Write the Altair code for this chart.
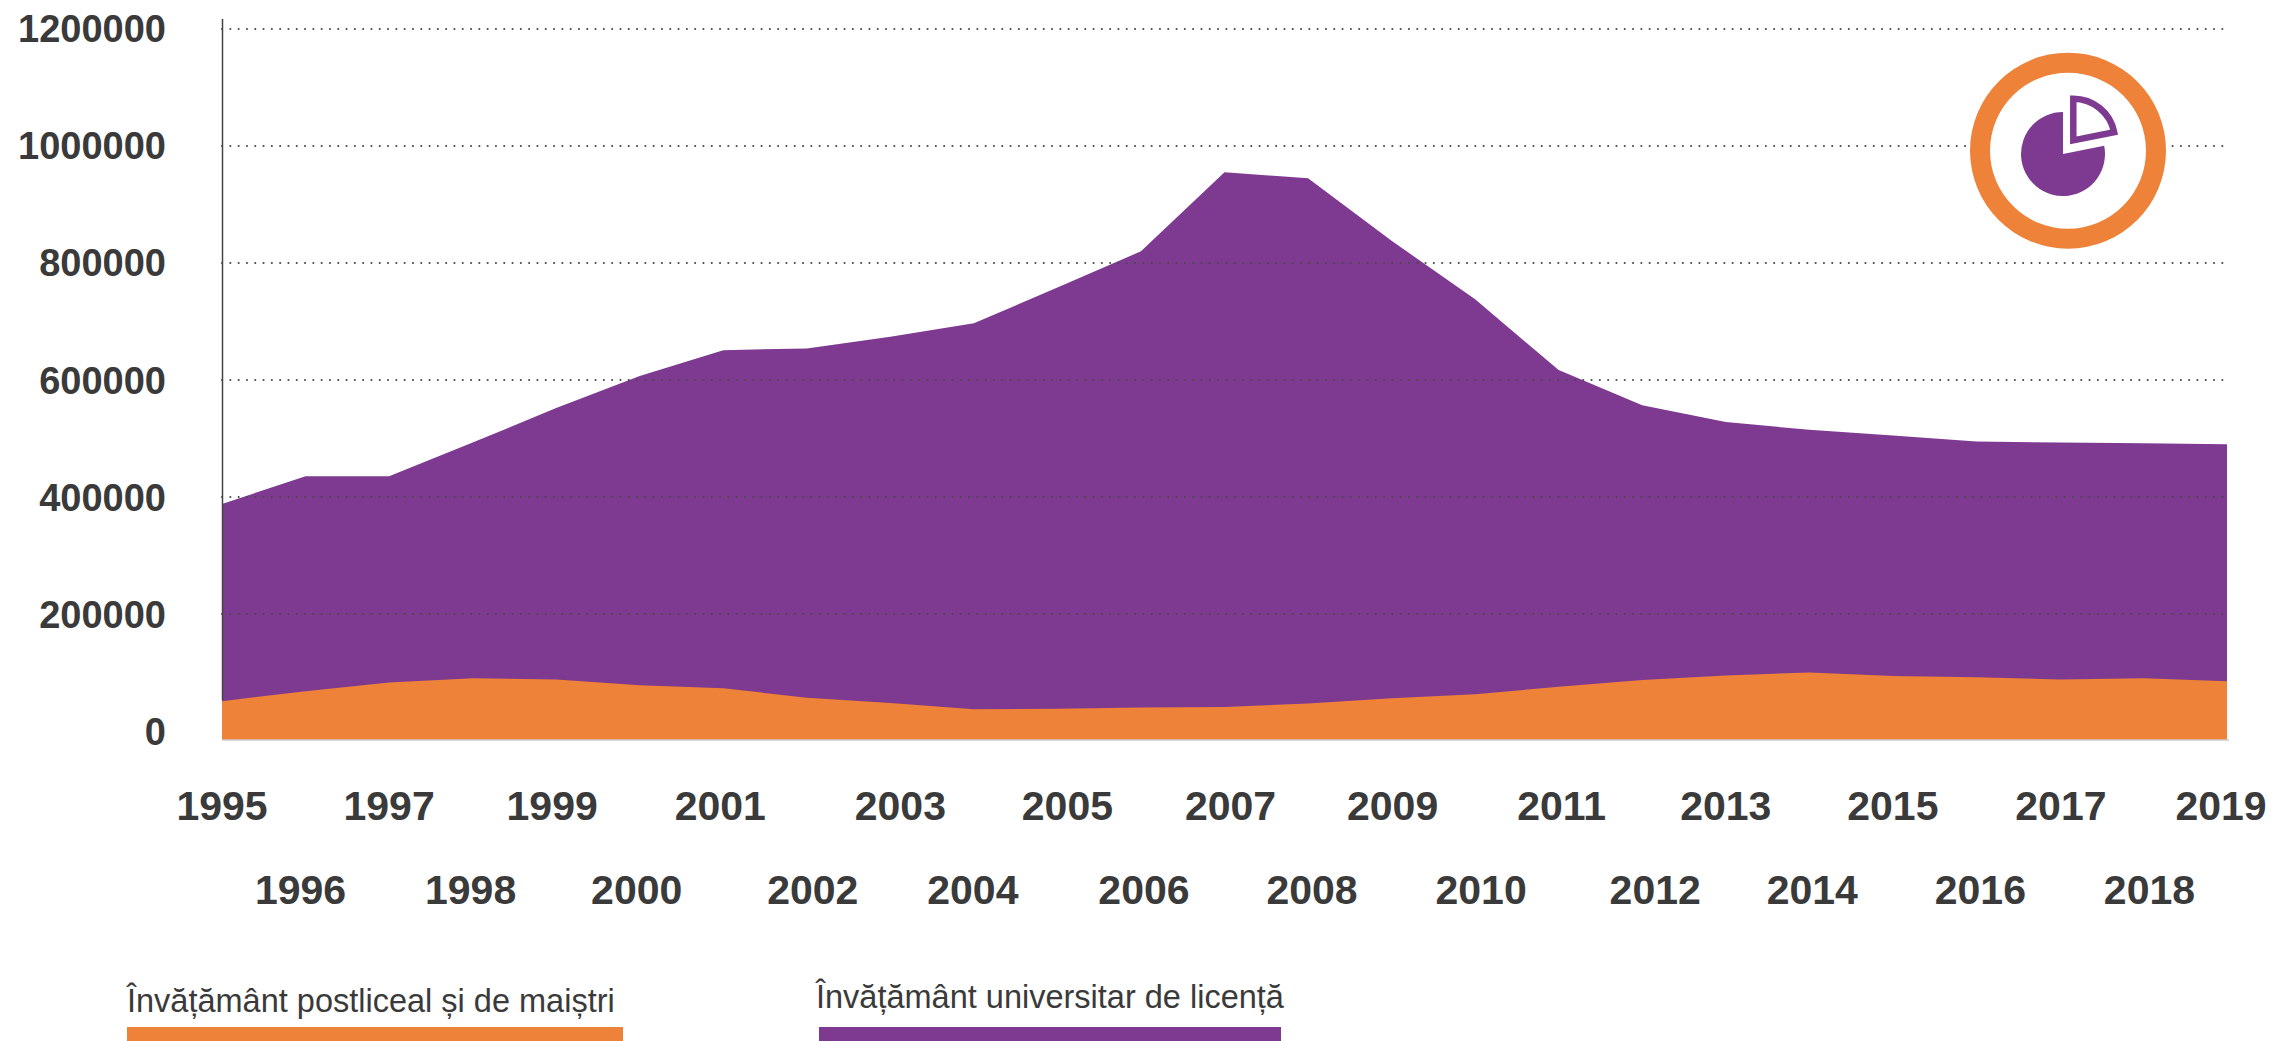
import altair as alt
import pandas as pd

years = list(range(1995, 2020))
licenta = [388000, 435600, 435600, 493000, 552000, 607000, 651000, 654000, 674000, 697000,
           758000, 820000, 955000, 945000, 838000, 738000, 617000, 557000, 528000, 515000,
           505000, 495000, 493000, 492000, 490000]
postliceal = [51000, 68000, 83000, 90000, 88000, 78000, 73000, 57000, 48000, 37000,
              38000, 40000, 41000, 47000, 56000, 63000, 75500, 87000, 95000, 100000,
              94000, 92000, 88000, 90000, 85000]
y_ticks = [0, 200000, 400000, 600000, 800000, 1000000, 1200000]
series_names = ["Învățământ postliceal și de maiștri", "Învățământ universitar de licență"]

PURPLE = "#7E3A90"
ORANGE = "#ED8238"
INK = "#3A3A3A"
FONT = "Liberation Sans"

W, H = 2005, 711
OX, OY = 222, 29
BOTTOM_DOMAIN = -15385
x_scale = alt.Scale(domain=[1995, 2019], range=[0, W], nice=False, zero=False)
y_scale = alt.Scale(domain=[BOTTOM_DOMAIN, 1200000], range=[H, 0], nice=False, zero=False)
label_scale = alt.Scale(domain=[0, 1200000], range=[705, 2], nice=False, zero=False)

# layout only: how far each year label sits from its tick in the reference, in px
label_nudge = {1996: -5, 1998: -2, 1999: -4, 2000: -3, 2001: -3, 2002: 6, 2003: 10, 2004: -1,
               2005: 10, 2006: 3, 2007: 6, 2008: 4, 2009: 1, 2010: 6, 2011: 3, 2012: 13,
               2014: 3, 2016: 4, 2017: 1, 2018: 6, 2019: -6}

df = pd.DataFrame({"year": years, "licenta": licenta, "postliceal": postliceal, "base": BOTTOM_DOMAIN})
ticks = pd.DataFrame({"v": y_ticks, "label": [str(v) for v in y_ticks]})
X = alt.X("year:Q", scale=x_scale, axis=None)

purple = alt.Chart(df).mark_area(color=PURPLE, opacity=1).encode(
    x=X, y=alt.Y("licenta:Q", scale=y_scale, axis=None), y2="base:Q")
orange = alt.Chart(df).mark_area(color=ORANGE, opacity=1).encode(
    x=X, y=alt.Y("postliceal:Q", scale=y_scale, axis=None), y2="base:Q")

grid = alt.Chart(ticks[ticks.v > 0]).mark_rule(
    color="#4A4A4A", strokeWidth=2, strokeDash=[0.1, 8.2], strokeCap="round").encode(
    x=alt.value(0), x2=alt.value(W - 2), y=alt.Y("v:Q", scale=y_scale, axis=None))

yline = alt.Chart(df.head(1)).mark_rule(color="#444444", strokeWidth=1.5).encode(
    x=alt.value(0.5), y=alt.value(19 - OY), y2=alt.value(700 - OY))
xline = alt.Chart(df.head(1)).mark_rule(color="#CCCCCC", strokeWidth=1.5).encode(
    x=alt.value(0), x2=alt.value(W + 2), y=alt.value(H))

ylabels = alt.Chart(ticks).mark_text(
    font=FONT, fontWeight="bold", fontSize=38, color=INK, align="right", baseline="middle").encode(
    x=alt.value(166 - OX), y=alt.Y("v:Q", scale=label_scale, axis=None), text="label:N")

lab = pd.DataFrame({"year": years, "label": [str(y) for y in years],
                    "nudge": [label_nudge.get(y, 0) for y in years]})

def xlabels(rem, ypos):
    return alt.Chart(lab[lab.year % 2 == rem]).transform_calculate(
        pos=f"datum.year + datum.nudge * 24 / {W}"
    ).mark_text(
        font=FONT, fontWeight="bold", fontSize=41, color=INK, align="center", baseline="middle").encode(
        x=alt.X("pos:Q", scale=x_scale, axis=None),
        y=alt.value(ypos), text="label:N")

def legend(name, x0, x1, color, tx, ty):
    bar = alt.Chart(df.head(1)).mark_rect(color=color).encode(
        x=alt.value(x0), x2=alt.value(x1), y=alt.value(1027 - OY), y2=alt.value(1041 - OY))
    txt = alt.Chart(pd.DataFrame({"t": [name]})).mark_text(
        font=FONT, fontSize=32.5, color=INK, align="left", baseline="alphabetic").encode(
        x=alt.value(tx), y=alt.value(ty), text="t:N")
    return bar + txt

def arc(cx, cy, outer, inner, t0, t1, **kw):
    return alt.Chart(df.head(1)).mark_arc(theta=t0, theta2=t1, **kw).encode(
        x=alt.value(cx), y=alt.value(cy),
        radius=alt.value(outer), radius2=alt.value(inner))

TAU = 6.2831853072
icon = (
    arc(2068 - OX, 150.7 - OY, 98, 0, 0, TAU, color="#FFFFFF")
    + arc(2068 - OX, 150.7 - OY, 98, 78, 0, TAU, color=ORANGE)
    + arc(2063 - OX, 154 - OY, 42, 0, 1.372, TAU, color=PURPLE)
    + arc(2073.3 - OX, 140.4 - OY, 41.7, 0, 0, 1.372, fill="#FFFFFF", stroke=PURPLE, strokeWidth=6.5, strokeJoin="miter")
)

chart = alt.layer(
    purple, orange, grid, yline, xline, ylabels,
    xlabels(1, 808 - OY), xlabels(0, 892 - OY),
    legend(series_names[0], 127 - OX, 623 - OX, ORANGE, 127 - OX, 1012 - OY),
    legend(series_names[1], 819 - OX, 1281 - OX, PURPLE, 816 - OX, 1008 - OY),
    icon,
).resolve_scale(y="independent").properties(
    width=W, height=H,
    padding={"left": OX - 8, "top": OY - 8, "right": 2269 - OX - W, "bottom": 1041 - OY - H},
    autosize=alt.AutoSizeParams(type="none"),
    background="#FFFFFF",
).configure_view(stroke=None)

chart.save("out.html", embed_options={"renderer": "svg", "actions": False})
